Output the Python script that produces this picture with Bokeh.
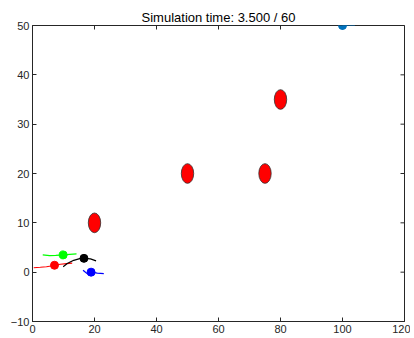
import math
from bokeh.plotting import figure
from bokeh.models import FixedTicker, Range1d
from bokeh.embed import file_html
from bokeh.resources import INLINE

# Obstacles (circles of radius 2)
obs_x = [20, 50, 75, 80]
obs_y = [10, 20, 20, 35]
obs_d = [4, 4, 4, 4]

# Vehicles: current positions
veh_x = [7.1, 9.9, 16.6, 18.9, 100]
veh_y = [1.4, 3.5, 2.8, 0.0, 50]
veh_c = ["#FF0000", "#00FF00", "#000000", "#0000FF", "#0072BD"]

# Trails
red_x = [0.4, 2.5, 4.5, 6.0, 7.1, 9.0, 11.0, 12.8]
red_y = [0.9, 1.0, 1.1, 1.25, 1.4, 1.6, 1.75, 1.85]
green_x = [3.3, 5.5, 7.5, 9.9, 12.0, 14.2]
green_y = [3.5, 3.35, 3.4, 3.5, 3.6, 3.7]
black_x = [9.9, 11.2, 13.3, 15.5, 16.6, 18.7, 20.5]
black_y = [1.1, 1.75, 2.4, 2.8, 2.8, 2.7, 2.3]
blue_x = [16.3, 16.8, 17.4, 18.3, 18.9, 20.9, 23.0]
blue_y = [0.4, 0.13, -0.2, -0.4, 0.0, -0.2, -0.3]
blue2_x = [100, 104]
blue2_y = [50, 50]

x_ticks = [0, 20, 40, 60, 80, 100, 120]
y_ticks = [-10, 0, 10, 20, 30, 40, 50]
x_min, x_max = 0, 120
y_min, y_max = -10, 50
title_text = "Simulation time: 3.500 / 60"

AX = "#262626"
FONT = "Liberation Sans"

p = figure(width=410, height=336, output_backend="svg", toolbar_location=None,
           x_range=Range1d(x_min, x_max), y_range=Range1d(y_min, y_max),
           min_border_left=32, min_border_right=6, min_border_top=25, min_border_bottom=15,
           title=title_text)
p.title.align = "center"
p.title.text_font = FONT
p.title.text_font_size = "13px"
p.title.text_font_style = "normal"
p.title.text_color = "#000000"
p.title.standoff = 2
p.title.offset = 0

p.grid.visible = False
p.outline_line_color = AX
p.background_fill_color = "white"
p.border_fill_color = "white"

for ax, ticks in ((p.xaxis[0], x_ticks), (p.yaxis[0], y_ticks)):
    ax.ticker = FixedTicker(ticks=ticks)
    ax.axis_line_color = AX
    ax.major_tick_line_color = AX
    ax.major_tick_in = 4
    ax.major_tick_out = 0
    ax.minor_tick_line_color = None
    ax.major_label_text_font = FONT
    ax.major_label_text_font_size = "11px"
    ax.major_label_text_color = AX
    ax.major_label_standoff = 3

# inward ticks on the top and right edges of the box (clipped to the frame)
p.scatter(x_ticks, [y_max] * len(x_ticks), marker="dash", angle=math.pi / 2,
          size=8, line_color=AX, line_width=1)
p.scatter([x_max] * len(y_ticks), y_ticks, marker="dash",
          size=8, line_color=AX, line_width=1)

p.ellipse(obs_x, obs_y, width=obs_d, height=obs_d, fill_color="#FF0000",
          line_color="#303030", line_width=0.8)

p.line(red_x, red_y, line_color="#FF0000", line_width=1.2)
p.line(green_x, green_y, line_color="#00FF00", line_width=1.2)
p.line(black_x, black_y, line_color="#000000", line_width=1.2)
p.line(blue_x, blue_y, line_color="#0000FF", line_width=1.2)
p.line(blue2_x, blue2_y, line_color="#0072BD", line_width=1.2)

p.scatter(veh_x, veh_y, size=8, fill_color=veh_c, line_color=veh_c)

open("out.html", "w").write(file_html(p, INLINE))
